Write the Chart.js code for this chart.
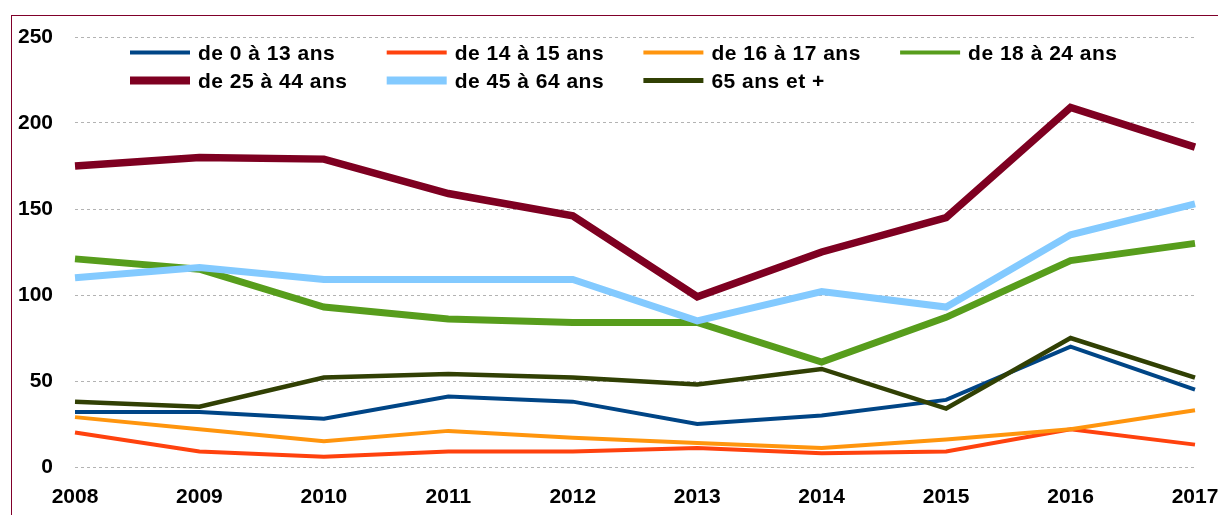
<!DOCTYPE html>
<html>
<head>
<meta charset="utf-8">
<script src="https://cdn.jsdelivr.net/npm/chart.js@4/dist/chart.umd.min.js"></script>
<style>
  html, body { margin: 0; padding: 0; background: #fff; }
  #wrap { position: relative; width: 1218px; height: 515px; }
</style>
</head>
<body>
<div id="wrap"><canvas id="chart"></canvas></div>
<script>
const years = ['2008', '2009', '2010', '2011', '2012', '2013', '2014', '2015', '2016', '2017'];

const age0to13 = [32, 32, 28, 41, 38, 25, 30, 39, 70, 45];
const age14to15 = [20, 9, 6, 9, 9, 11, 8, 9, 22, 13];
const age16to17 = [29, 22, 15, 21, 17, 14, 11, 16, 22, 33];
const age18to24 = [121, 115, 93, 86, 84, 84, 61, 87, 120, 130];
const age25to44 = [175, 180, 179, 159, 146, 99, 125, 145, 209, 186];
const age45to64 = [110, 116, 109, 109, 109, 85, 102, 93, 135, 153];
const age65plus = [38, 35, 52, 54, 52, 48, 57, 34, 75, 52];

const seriesLabels = ['de 0 à 13 ans', 'de 14 à 15 ans', 'de 16 à 17 ans', 'de 18 à 24 ans',
                      'de 25 à 44 ans', 'de 45 à 64 ans', '65 ans et +'];
const yTicks = [0, 50, 100, 150, 200, 250];

const FONT = "'Liberation Sans', Arial, sans-serif";

const series = [
    { values: age0to13, color: '#004586', width: 4 },
    { values: age14to15, color: '#ff420e', width: 4 },
    { values: age16to17, color: '#ff950e', width: 4 },
    { values: age18to24, color: '#579d1c', width: 7 },
    { values: age25to44, color: '#7e0021', width: 7.5 },
    { values: age45to64, color: '#83caff', width: 7 },
    { values: age65plus, color: '#314004', width: 4.5 }
];

// frame + grid-style legend (4 columns, 2 rows)
const decorPlugin = {
    id: 'decor',
    beforeDraw(chart) {
        const ctx = chart.ctx;
        ctx.save();
        ctx.strokeStyle = '#80002a';
        ctx.lineWidth = 1;
        ctx.strokeRect(11.5, 15.5, 1400, 700);
        ctx.restore();
    },
    afterDraw(chart) {
        const ctx = chart.ctx;
        ctx.save();
        ctx.font = 'bold 21px ' + FONT;
        ctx.letterSpacing = '0.5px';
        ctx.textBaseline = 'middle';
        ctx.fillStyle = '#000';
        chart.data.datasets.forEach((ds, i) => {
            const col = i % 4, row = Math.floor(i / 4);
            const x = 130 + col * 256.7;
            const y = 52.5 + row * 28;
            ctx.strokeStyle = ds.borderColor;
            ctx.lineWidth = row === 0 ? 4 : (i === 6 ? 5 : 8);
            ctx.beginPath();
            ctx.moveTo(x, y);
            ctx.lineTo(x + 60, y);
            ctx.stroke();
            ctx.fillText(ds.label, x + 68, y + 1.5);
        });
        ctx.restore();
    }
};

new Chart(document.getElementById('chart'), {
    type: 'line',
    data: {
        labels: years,
        datasets: series.map((s, i) => ({
            label: seriesLabels[i],
            data: s.values,
            borderColor: s.color,
            backgroundColor: s.color,
            borderWidth: s.width,
            pointRadius: 0,
            tension: 0,
            fill: false,
            order: series.length - i
        }))
    },
    options: {
        responsive: true,
        maintainAspectRatio: false,
        animation: false,
        layout: { padding: { top: 37, right: 23, bottom: 0, left: 0 } },
        plugins: {
            legend: { display: false },
            tooltip: { enabled: false }
        },
        scales: {
            x: {
                offset: false,
                grid: { display: false, drawTicks: false },
                border: { display: false },
                ticks: {
                    color: '#000',
                    font: { family: FONT, size: 21, weight: 'bold' },
                    padding: 18,
                    autoSkip: false,
                    maxRotation: 0
                },
                afterFit(scale) {
                    scale.height = 48;
                    scale.paddingLeft = 0;
                    scale.paddingRight = 0;
                }
            },
            y: {
                min: 0,
                max: 250,
                afterBuildTicks(scale) { scale.ticks = yTicks.map(v => ({ value: v })); },
                grid: { color: '#b3b3b3', lineWidth: 1, drawTicks: false },
                border: { display: false, dash: [3, 3] },
                ticks: {
                    color: '#000',
                    font: { family: FONT, size: 21, weight: 'bold' },
                    padding: 22
                },
                afterFit(scale) {
                    scale.width = 75;
                    scale.paddingTop = 0;
                    scale.paddingBottom = 0;
                }
            }
        }
    },
    plugins: [decorPlugin]
});
</script>
</body>
</html>
